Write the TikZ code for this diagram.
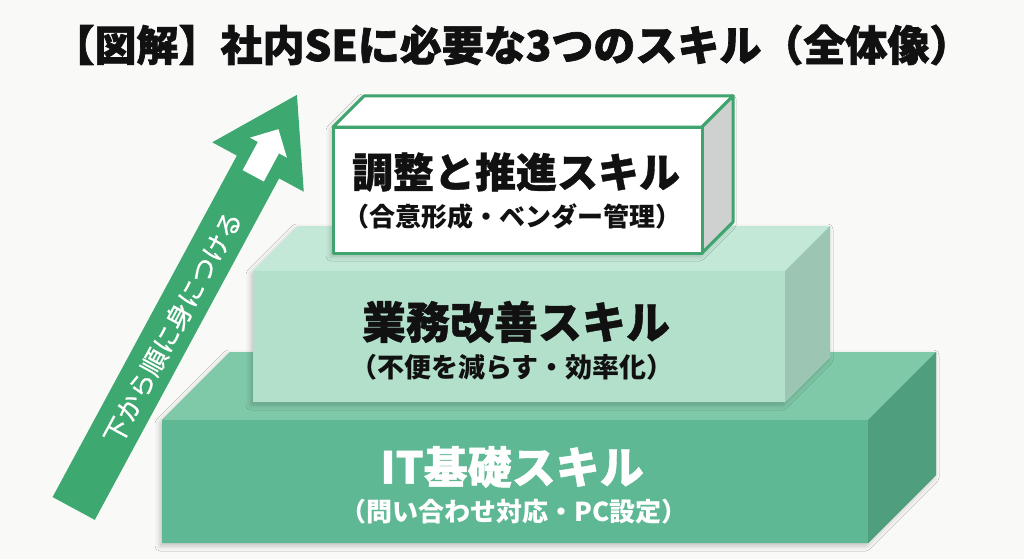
\documentclass[tikz,border=0pt]{standalone}
\usepackage{fontspec}
\setmainfont{Noto Sans CJK JP}
\newfontfamily\heavyfont{Noto Sans CJK JP}[BoldFeatures={FakeBold=1.6}]
\newfontfamily\stronger{Noto Sans CJK JP}[BoldFeatures={FakeBold=0.9}]
\newfontfamily\midweight{Noto Sans CJK JP}[FakeBold=0.9]
\usetikzlibrary{calc,shadows.blur}
\definecolor{bggray}{HTML}{F9F9F8}
\definecolor{lowfront}{HTML}{5DB893}
\definecolor{lowtop}{HTML}{80C9A8}
\definecolor{lowside}{HTML}{4F9E7E}
\definecolor{midfront}{HTML}{B3E0CB}
\definecolor{midtop}{HTML}{C4E8D7}
\definecolor{midside}{HTML}{9CC6B3}
\definecolor{leadside}{HTML}{CFD1D0}
\definecolor{edgegreen}{HTML}{3FA46E}
\definecolor{arrowgreen}{HTML}{3DA86F}
\definecolor{ink}{HTML}{111111}
\tikzstyle{heading}=[font=\heavyfont\fontsize{42}{44}\selectfont\bfseries, text=ink]
\tikzstyle{skill}=[font=\stronger\fontsize{44}{46}\selectfont\bfseries, inner sep=0pt]
\tikzstyle{detail}=[font=\fontsize{26}{28}\selectfont\bfseries, inner sep=0pt]
\tikzstyle{climbtext}=[font=\midweight\fontsize{26}{28}\selectfont, text=white, inner sep=0pt]
\tikzstyle{softshadow}=[blur shadow={shadow xshift=-2pt, shadow yshift=-3pt, shadow blur radius=5pt, shadow opacity=22}]
\tikzstyle{leadedge}=[draw=edgegreen, line width=3pt, line join=round]

\begin{document}
\begin{tikzpicture}[x=1pt,y=-1pt]
    \fill[bggray] (0,0) rectangle (1024,559);
    \useasboundingbox (0,0) rectangle (1024,559);

    \node[heading] (title) at (512,45) {【図解】社内SEに必要な3つのスキル（全体像）};

    % lower two blocks: left/right/top/bottom/depth/colours
    \foreach \xa/\xb/\ya/\yb/\d/\cfront/\ctop/\cside in {162/868/420/543/68/lowfront/lowtop/lowside, 253/785/271/402/45/midfront/midtop/midside}
    {
        \fill[\cfront, softshadow] (\xa,\yb) -- (\xa,\ya) -- (\xa+\d,\ya-\d) -- (\xb+\d,\ya-\d) -- (\xb+\d,\yb-\d) -- (\xb,\yb) -- cycle;
        \fill[\ctop] (\xa,\ya) -- (\xa+\d,\ya-\d) -- (\xb+\d,\ya-\d) -- (\xb,\ya) -- cycle;
        \fill[\cside] (\xb,\ya) -- (\xb+\d,\ya-\d) -- (\xb+\d,\yb-\d) -- (\xb,\yb) -- cycle;
        \fill[\cfront] (\xa,\ya) rectangle (\xb,\yb);
    }

    % top block with green edges
    \fill[white, softshadow] (333,253) -- (333,127) -- (364,96) -- (733,96) -- (733,222) -- (702,253) -- cycle;
    \filldraw[fill=white, leadedge] (333,127) -- (364,96) -- (733,96) -- (702,127) -- cycle;
    \filldraw[fill=leadside, leadedge] (702,127) -- (733,96) -- (733,222) -- (702,253) -- cycle;
    \filldraw[fill=white, leadedge] (333,127) rectangle (702,253);

    % block labels
    \node[skill, text=white] (base) at (512,467) {IT基礎スキル};
    \node[detail, text=white] (basenote) at (514,512) {（問い合わせ対応・PC設定）};
    \node[skill, text=ink] (work) at (516,322) {業務改善スキル};
    \node[detail, text=ink, font=\fontsize{27}{29}\selectfont\bfseries] (worknote) at (512,367) {（不便を減らす・効率化）};
    \node[skill, text=ink, font=\stronger\fontsize{41}{43}\selectfont\bfseries] (lead) at (516,172) {調整と推進スキル};
    \node[detail, text=ink] (leadnote) at (512,217) {（合意形成・ベンダー管理）};

    % arrow along its own axis
    \begin{scope}[shift={(258,167)}, x={(0.475pt,0.880pt)}, y={(0.880pt,-0.475pt)}]
        \fill[arrowgreen] (-388,-24) -- (0,-24) -- (0,-52) -- (82,0) -- (0,52) -- (0,24) -- (-388,24) -- cycle;
        \fill[white] (-10,-12) -- (22,-12) -- (22,-21) -- (43,0) -- (22,21) -- (22,12) -- (-10,12) -- cycle;
        \node[climbtext, rotate=61.6] (climb) at (-182,1) {下から順に身につける};
    \end{scope}
\end{tikzpicture}
\end{document}
